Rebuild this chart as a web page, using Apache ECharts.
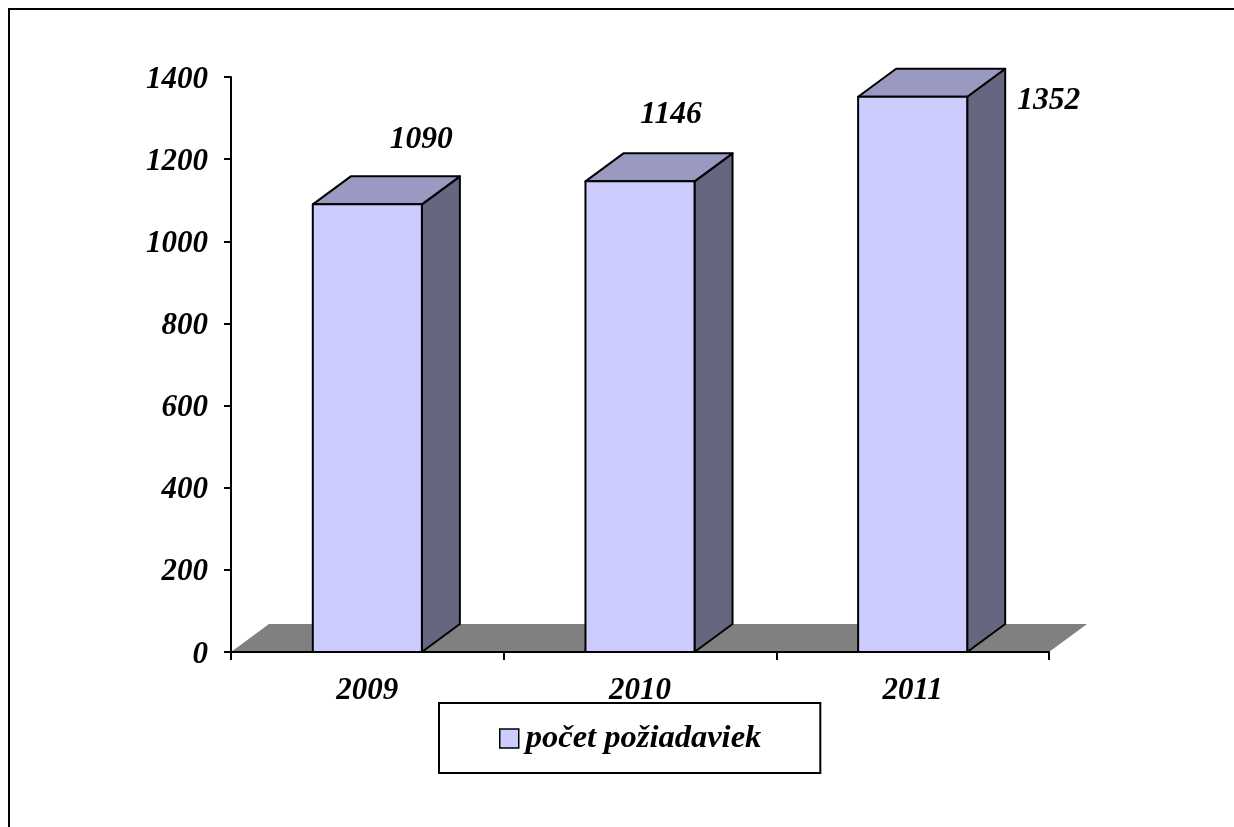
<!DOCTYPE html>
<html>
<head>
<meta charset="utf-8">
<title>počet požiadaviek</title>
<script src="https://cdn.jsdelivr.net/npm/echarts@6/dist/echarts.min.js"></script>
<style>
  html, body { margin: 0; padding: 0; background: #fff; }
  #chart { width: 1234px; height: 827px; }
</style>
</head>
<body>
<div id="chart"></div>
<script>
var categories = ["2009", "2010", "2011"];
var requests = [1090, 1146, 1352];
var yTicks = { min: 0, max: 1400, interval: 200 };
var seriesName = "počet požiadaviek";

// posun popisiek oproti hornej hrane stlpca (label offset from the bar top)
var labelShiftX = [54, 31, 136];
var labelShiftY = [-64, -66, 4];

var FONT = "Liberation Serif";
var DEPTH_X = 38;
var DEPTH_Y = 28;

var chart = echarts.init(document.getElementById("chart"));

function renderFloor(params, api) {
  var c = params.coordSys;
  var y = c.y + c.height;
  return {
    type: "polygon",
    shape: {
      points: [
        [c.x, y],
        [c.x + DEPTH_X, y - DEPTH_Y],
        [c.x + c.width + DEPTH_X, y - DEPTH_Y],
        [c.x + c.width, y]
      ]
    },
    style: { fill: "#808080" }
  };
}

function renderBar(params, api) {
  var top = api.coord([api.value(0), api.value(1)]);
  var base = api.coord([api.value(0), 0]);
  var w = api.size([1, 0])[0] * 0.4;
  var l = top[0] - w / 2;
  var r = top[0] + w / 2;
  var line = { stroke: "#000", lineWidth: 2, lineJoin: "round" };
  return {
    type: "group",
    children: [
      {
        type: "polygon",
        shape: { points: [[r, base[1]], [r + DEPTH_X, base[1] - DEPTH_Y], [r + DEPTH_X, top[1] - DEPTH_Y], [r, top[1]]] },
        style: Object.assign({ fill: "#666680" }, line)
      },
      {
        type: "polygon",
        shape: { points: [[l, top[1]], [l + DEPTH_X, top[1] - DEPTH_Y], [r + DEPTH_X, top[1] - DEPTH_Y], [r, top[1]]] },
        style: Object.assign({ fill: "#9999C2" }, line)
      },
      {
        type: "rect",
        shape: { x: l, y: top[1], width: w, height: base[1] - top[1] },
        style: Object.assign({ fill: "#CCCCFF" }, line)
      },
      {
        type: "text",
        style: {
          x: top[0] + labelShiftX[params.dataIndex],
          y: top[1] + labelShiftY[params.dataIndex],
          text: String(api.value(1)),
          align: "center",
          verticalAlign: "middle",
          fill: "#000",
          font: "italic bold 31.5px '" + FONT + "'"
        }
      }
    ]
  };
}

var option = {
  animation: false,
  backgroundColor: "#fff",
  textStyle: { fontFamily: FONT },
  grid: { left: 231, top: 77, width: 818, height: 575, containLabel: false },
  graphic: [
    {
      type: "polyline",
      shape: { points: [[9, 830], [9, 9], [1240, 9]] },
      style: { stroke: "#000", lineWidth: 2, fill: null }
    }
  ],
  legend: {
    left: 439,
    top: 703,
    data: [seriesName],
    orient: "horizontal",
    backgroundColor: "#fff",
    borderColor: "#000",
    borderWidth: 2,
    padding: [19, 59, 18, 60],
    icon: "rect",
    itemWidth: 19,
    itemHeight: 19,
    itemGap: 0,
    selectedMode: false,
    itemStyle: { color: "#CCCCFF", borderColor: "#000", borderWidth: 1.5 },
    textStyle: { fontFamily: FONT, fontStyle: "italic", fontWeight: "bold", fontSize: 32.5, color: "#000", padding: [0, 0, 0, 2] }
  },
  xAxis: {
    type: "category",
    data: categories,
    boundaryGap: true,
    z: 5,
    axisLine: { lineStyle: { color: "#000", width: 2 } },
    axisTick: { show: true, alignWithLabel: false, length: 8, lineStyle: { color: "#000", width: 2 } },
    axisLabel: { margin: 23, interval: 0, color: "#000", fontFamily: FONT, fontStyle: "italic", fontWeight: "bold", fontSize: 31 }
  },
  yAxis: {
    type: "value",
    min: yTicks.min,
    max: yTicks.max,
    interval: yTicks.interval,
    z: 5,
    splitLine: { show: false },
    axisLine: { show: true, lineStyle: { color: "#000", width: 2 } },
    axisTick: { show: true, length: 7, lineStyle: { color: "#000", width: 2 } },
    axisLabel: {
      margin: 23,
      formatter: function (v) { return "{v|" + v + "}"; },
      rich: {
        v: {
          padding: [5, 0, 0, 0],
          color: "#000",
          fontFamily: FONT,
          fontStyle: "italic",
          fontWeight: "bold",
          fontSize: 31
        }
      }
    }
  },
  series: [
    {
      name: "podlaha",
      type: "custom",
      z: 1,
      silent: true,
      coordinateSystem: "cartesian2d",
      renderItem: renderFloor,
      data: [[0, 0]]
    },
    {
      name: seriesName,
      type: "custom",
      z: 6,
      coordinateSystem: "cartesian2d",
      renderItem: renderBar,
      itemStyle: { color: "#CCCCFF" },
      encode: { x: 0, y: 1 },
      data: categories.map(function (c, i) { return [i, requests[i]]; })
    }
  ]
};
chart.setOption(option);
</script>
</body>
</html>
